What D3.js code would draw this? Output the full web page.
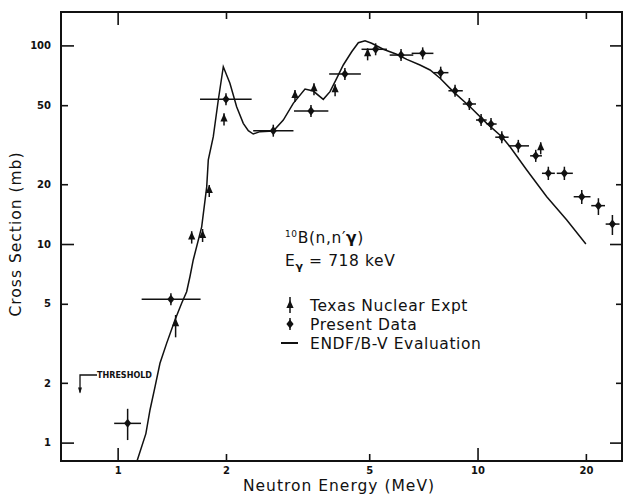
<!DOCTYPE html>
<html>
<head>
  <style type="text/css">
    body { margin: 0; background: #fff; }
    text { font-family: 'DejaVu Sans', sans-serif; fill: #111; }
  </style>
</head>
<body>
  <svg width="624" height="497" id="chart"></svg>
  <script src="https://d3js.org/d3.v7.min.js"></script>
  <script>

// ENDF/B-V evaluation (MeV, mb)
const endfE  = [1.13, 1.198, 1.23, 1.27, 1.311, 1.368, 1.443, 1.506, 1.555, 1.588, 1.622, 1.712, 1.768, 1.786, 1.844, 1.904, 1.966,
                2.051, 2.141, 2.234, 2.307, 2.381, 2.486, 2.707, 2.886, 3.076, 3.316, 3.496, 3.727, 3.891, 4.061, 4.236, 4.47,
                4.664, 4.868, 5.08, 5.47, 5.96, 6.36, 6.92, 7.38, 7.87, 8.56, 9.53, 10.61, 11.68, 12.31, 13.7, 15.57, 17.7, 20]
const endfXS = [0.80, 1.11, 1.46, 1.91, 2.51, 3.16, 4.14, 5.03, 5.75, 6.84, 8.31, 12.2, 19.4, 26.5, 34.7, 53.1, 78.1,
                64.5, 49.1, 40.5, 37.2, 35.8, 36.8, 37.1, 42.1, 51.1, 60.3, 58.9, 53.5, 58.5, 68.3, 79.7, 92.9,
                103.2, 105.6, 102.5, 95.6, 90.2, 85.1, 79.7, 75.2, 68.3, 58.5, 49.1, 40.5, 34.7, 30.9, 23.6, 17.3, 13.2, 10]

// present data
const presentE    = [1.066, 1.406, 2.0, 2.707, 3.445, 4.28, 5.21, 6.13, 7.04, 7.9, 8.66, 9.49, 10.23, 10.9, 11.68, 12.98, 14.51, 15.73, 17.43, 19.48, 21.67, 23.7]
const presentXS   = [1.25, 5.27, 53.5, 37.2, 46.7, 71.8, 95.6, 89.4, 91.2, 72.9, 59.1, 50.7, 42.1, 40.2, 34.5, 31.2, 27.8, 22.7, 22.7, 17.3, 15.6, 12.6]
const presentELo  = [0.978, 1.166, 1.694, 2.38, 3.09, 3.87, 4.76, 5.7, 6.56, 7.55, 8.3, 9.1, 9.9, 10.6, 11.2, 12.2, 14.0, 15.1, 16.6, 18.5, 20.7, 22.7]
const presentEHi  = [1.161, 1.70, 2.357, 3.08, 3.85, 4.74, 5.6, 6.63, 7.54, 8.3, 9.1, 9.9, 10.6, 11.3, 12.2, 13.9, 15.1, 16.4, 18.4, 20.6, 22.6, 24.8]
const presentXSLo = [1.03, 5.0, 51, 35.5, 44.6, 68.5, 91.5, 85.5, 87.3, 69.5, 56.3, 48.2, 40.0, 38.2, 32.7, 28.9, 25.9, 21.0, 21.0, 15.9, 14.0, 11.1]
const presentXSHi = [1.48, 5.55, 56, 39.0, 48.9, 75.2, 99.8, 93.4, 95.3, 76.3, 62.0, 53.2, 44.2, 42.2, 36.4, 33.3, 29.7, 24.5, 24.5, 18.7, 17.0, 14.0]

// Texas Nuclear experiment
const texasE    = [1.449, 1.606, 1.722, 1.797, 1.975, 3.11, 3.512, 4.02, 4.95, 14.98]
const texasXS   = [3.99, 10.9, 11.1, 18.7, 42.9, 56.3, 60.8, 60.1, 91.2, 30.7]
const texasXSLo = [3.39, 10.2, 10.3, 17.6, 40.5, 53.5, 57.8, 57.2, 87.5, 29.3]
const texasXSHi = [4.39, 11.6, 11.9, 19.8, 45.5, 59.0, 63.8, 63.0, 95.0, 32.0]

const xTicks = [1, 2, 5, 10, 20]
const yTicks = [1, 2, 5, 10, 20, 50, 100]
const majorTicks = [1, 10, 100]

const thresholdE = 0.786
const legendLabels = ['Texas Nuclear Expt', 'Present Data', 'ENDF/B-V Evaluation']

const margin = { left: 61, right: 2, top: 12, bottom: 36 }
const W = 624, H = 497

const svg = d3.select('#chart')
const x = d3.scaleLog().domain([0.696, 25.2]).range([margin.left, W - margin.right])
const y = d3.scaleLog().domain([0.808, 147.3]).range([H - margin.bottom, margin.top])
const [x0, x1] = x.range(), [y0, y1] = y.range()

const clipId = 'plotclip'
svg.append('clipPath').attr('id', clipId).append('rect')
  .attr('x', x0).attr('y', y1).attr('width', x1 - x0).attr('height', y0 - y1)

function tickLen(d) { return majorTicks.includes(d) ? 13 : 7 }

// axes
const fmt = d => String(d)
const axB = svg.append('g').attr('transform', `translate(0,${y0})`)
  .call(d3.axisBottom(x).tickValues(xTicks).tickFormat(fmt).tickSizeInner(0).tickSizeOuter(0).tickPadding(6))
axB.selectAll('.tick line').attr('y2', d => -tickLen(d))
const axT = svg.append('g').attr('transform', `translate(0,${y1})`)
  .call(d3.axisTop(x).tickValues(xTicks).tickFormat('').tickSizeOuter(0))
axT.selectAll('.tick line').attr('y2', d => tickLen(d))
const axL = svg.append('g').attr('transform', `translate(${x0},0)`)
  .call(d3.axisLeft(y).tickValues(yTicks).tickFormat(fmt).tickSizeInner(0).tickSizeOuter(0).tickPadding(10))
axL.selectAll('.tick line').attr('x2', d => tickLen(d))
const axR = svg.append('g').attr('transform', `translate(${x1},0)`)
  .call(d3.axisRight(y).tickValues(yTicks).tickFormat('').tickSizeOuter(0))
axR.selectAll('.tick line').attr('x2', d => -(majorTicks.includes(d) ? 12 : 6))

svg.selectAll('.domain').remove()
svg.selectAll('.tick line').attr('stroke', '#111').attr('stroke-width', 1.6)
svg.selectAll('.tick text').attr('font-size', 10).attr('font-weight', 'bold')
  .style('font-family', "'DejaVu Sans', sans-serif").attr('fill', '#111')

svg.append('rect').attr('x', x0).attr('y', y1).attr('width', x1 - x0).attr('height', y0 - y1)
  .attr('fill', 'none').attr('stroke', '#111').attr('stroke-width', 2)

// axis titles
svg.append('text').attr('x', 339).attr('y', 491).attr('text-anchor', 'middle')
  .attr('font-size', 15.5).attr('letter-spacing', 1).text('Neutron Energy (MeV)')
svg.append('text').attr('transform', 'translate(21,234) rotate(-90)').attr('text-anchor', 'middle')
  .attr('font-size', 15.5).attr('letter-spacing', 1).text('Cross Section (mb)')

const plot = svg.append('g').attr('clip-path', `url(#${clipId})`)

// ENDF curve
const line = d3.line().x(d => x(d[0])).y(d => y(d[1]))
plot.append('path').datum(endfE.map((e, i) => [e, endfXS[i]]))
  .attr('d', line).attr('fill', 'none').attr('stroke', '#111').attr('stroke-width', 1.5)

// present data
const present = presentE.map((e, i) => ({ e, s: presentXS[i], eLo: presentELo[i], eHi: presentEHi[i], sLo: presentXSLo[i], sHi: presentXSHi[i] }))
const pg = plot.append('g').selectAll('g').data(present).enter().append('g')
pg.append('line').attr('x1', d => x(d.eLo)).attr('x2', d => x(d.eHi))
  .attr('y1', d => y(d.s)).attr('y2', d => y(d.s)).attr('stroke', '#111').attr('stroke-width', 1.5)
pg.append('line').attr('x1', d => x(d.e)).attr('x2', d => x(d.e))
  .attr('y1', d => Math.min(y(d.sHi), y(d.s) - 6)).attr('y2', d => Math.max(y(d.sLo), y(d.s) + 6))
  .attr('stroke', '#111').attr('stroke-width', 1.5)
const diamond = 'M0,-4.5L3.6,0L0,4.5L-3.6,0Z'
pg.append('path').attr('d', diamond).attr('fill', '#111')
  .attr('transform', d => `translate(${x(d.e)},${y(d.s)})`)

// Texas Nuclear
const spade = 'M0,-5L3.6,3L-3.6,3Z'
const texas = texasE.map((e, i) => ({ e, s: texasXS[i], sLo: texasXSLo[i], sHi: texasXSHi[i] }))
const tg = plot.append('g').selectAll('g').data(texas).enter().append('g')
tg.append('line').attr('x1', d => x(d.e)).attr('x2', d => x(d.e))
  .attr('y1', d => Math.min(y(d.sHi), y(d.s) - 5)).attr('y2', d => Math.max(y(d.sLo), y(d.s) + 7))
  .attr('stroke', '#111').attr('stroke-width', 1.5)
tg.append('path').attr('d', spade).attr('fill', '#111')
  .attr('transform', d => `translate(${x(d.e)},${y(d.s)})`)

// threshold marker
const tx = x(thresholdE), ty = y(2.19), tb = y(1.79)
svg.append('path').attr('d', `M${tx + 17},${ty}H${tx}V${tb}`).attr('fill', 'none').attr('stroke', '#111').attr('stroke-width', 1.3)
svg.append('path').attr('d', `M${tx - 2},${tb - 5}L${tx + 2},${tb - 5}L${tx},${tb + 1}Z`).attr('fill', '#111')
svg.append('text').attr('x', tx + 17).attr('y', ty + 3.5).attr('font-size', 8).attr('font-weight', 'bold')
  .attr('textLength', 55).attr('lengthAdjust', 'spacingAndGlyphs').text('THRESHOLD')

// reaction label
const label = svg.append('text').attr('x', 285).attr('y', 243).attr('font-size', 15.5).attr('letter-spacing', 0.6)
label.append('tspan').attr('font-size', 9).attr('dy', -6).text('10')
label.append('tspan').attr('dy', 6).text('B(n,n\u2032')
label.append('tspan').attr('font-weight', 'bold').text('\u03b3')
label.append('tspan').text(')')
const eg = svg.append('text').attr('x', 285).attr('y', 266).attr('font-size', 15.5).attr('letter-spacing', 0.6)
eg.append('tspan').text('E')
eg.append('tspan').attr('font-size', 11).attr('font-weight', 'bold').attr('dy', 4).text('\u03b3')
eg.append('tspan').attr('dy', -4).text(' = 718 keV')

// legend
const legX = 290, legY = [305, 324, 343]
svg.append('line').attr('x1', legX).attr('x2', legX).attr('y1', legY[0] - 8).attr('y2', legY[0] + 8).attr('stroke', '#111').attr('stroke-width', 1.5)
svg.append('path').attr('d', spade).attr('fill', '#111').attr('transform', `translate(${legX},${legY[0]})`)
svg.append('line').attr('x1', legX).attr('x2', legX).attr('y1', legY[1] - 6).attr('y2', legY[1] + 6).attr('stroke', '#111').attr('stroke-width', 1.5)
svg.append('path').attr('d', diamond).attr('fill', '#111').attr('transform', `translate(${legX},${legY[1]})`)
svg.append('line').attr('x1', legX - 9).attr('x2', legX + 8).attr('y1', legY[2]).attr('y2', legY[2]).attr('stroke', '#111').attr('stroke-width', 2)
svg.selectAll('.leg').data(legendLabels).enter().append('text')
  .attr('x', 310).attr('y', (d, i) => legY[i] + 6).attr('font-size', 15.5).attr('letter-spacing', 0.6)
  .text(d => d)

  </script>
</body>
</html>
